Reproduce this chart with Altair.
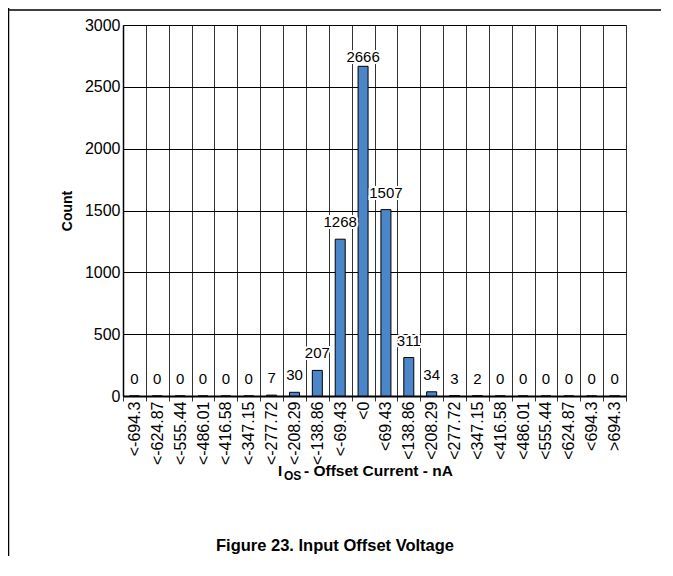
import altair as alt
import pandas as pd

categories = ["<-694.3", "<-624.87", "<-555.44", "<-486.01", "<-416.58", "<-347.15",
              "<-277.72", "<-208.29", "<-138.86", "<-69.43", "<0", "<69.43",
              "<138.86", "<208.29", "<277.72", "<347.15", "<416.58", "<486.01",
              "<555.44", "<624.87", "<694.3", ">694.3"]
counts = [0, 0, 0, 0, 0, 0, 7, 30, 207, 1268, 2666, 1507, 311, 34, 3, 2, 0, 0, 0, 0, 0, 0]
y_ticks = [0, 500, 1000, 1500, 2000, 2500, 3000]

FONT = "Liberation Sans"
df = pd.DataFrame({"bin": categories, "count": counts})

x_enc = alt.X("bin:N", sort=categories,
              scale=alt.Scale(paddingInner=0, paddingOuter=0),
              axis=alt.Axis(title=None, labelAngle=-90, labelFontSize=16, labelFont=FONT,
                            labelColor="black", grid=True, gridColor="#333", gridWidth=1,
                            gridOpacity=1, tickBand="extent", ticks=True, tickSize=5,
                            tickColor="#333", labelPadding=0, domainColor="black",
                            domainWidth=2))
y_enc = alt.Y("count:Q", scale=alt.Scale(domain=[0, 3000], nice=False),
              axis=alt.Axis(values=y_ticks, format="d", title="Count", titleFont=FONT,
                            titleFontSize=14, titleFontWeight="bold", titleColor="black",
                            titlePadding=10, labelFontSize=16, labelFont=FONT,
                            labelColor="black", grid=True, gridColor="black", gridWidth=1,
                            gridOpacity=1, ticks=False, labelPadding=3, domainColor="black",
                            domainWidth=1.5))

base = alt.Chart(df).transform_calculate(labely="min(datum.count, 2600)")
bars = base.mark_bar(size=10, fill="#4a86c8", stroke="black", strokeWidth=1).encode(x=x_enc, y=y_enc)
halo = base.mark_text(dy=-17, fontSize=15, font=FONT, stroke="white", strokeWidth=4,
                      fill="white", baseline="middle").encode(
    x=alt.X("bin:N", sort=categories), y="labely:Q", text="count:Q")
labels = base.mark_text(dy=-17, fontSize=15, font=FONT, color="black",
                        baseline="middle").encode(
    x=alt.X("bin:N", sort=categories), y="labely:Q", text="count:Q")

one = alt.Chart(pd.DataFrame({"k": [0]}))
xt_main = one.mark_text(text="I", fontSize=15, font=FONT, fontWeight="bold", align="left",
                        baseline="alphabetic", color="black").encode(
    x=alt.value(155), y=alt.value(451))
xt_sub = one.mark_text(text="OS", fontSize=12, font=FONT, fontWeight="bold", align="left",
                       baseline="alphabetic", color="black").encode(
    x=alt.value(161), y=alt.value(455))
xt_rest = one.mark_text(text="- Offset Current - nA", fontSize=15.5, font=FONT,
                        fontWeight="bold", align="left", baseline="alphabetic",
                        color="black").encode(x=alt.value(181), y=alt.value(451))
caption = one.mark_text(text="Figure 23. Input Offset Voltage", fontSize=16.5, font=FONT,
                        fontWeight="bold", align="center", baseline="alphabetic",
                        color="black").encode(x=alt.value(212), y=alt.value(526))
hline = one.mark_rule(color="black", strokeWidth=1.5).encode(
    x=alt.value(-115), x2=alt.value(538), y=alt.value(-15), y2=alt.value(-15))
vline = one.mark_rule(color="black", strokeWidth=1.5).encode(
    x=alt.value(-114.5), x2=alt.value(-114.5), y=alt.value(-17), y2=alt.value(531))

chart = alt.layer(bars, halo, labels, xt_main, xt_sub, xt_rest, caption, hline, vline).properties(
    width=503, height=371,
    autosize=alt.AutoSizeParams(type="none"),
    padding={"left": 115, "top": 17, "right": 35, "bottom": 160},
).configure_view(stroke="#222", strokeWidth=2).configure(font=FONT, background="white")

chart.save("out.html", embed_options={"renderer": "svg", "actions": False})
